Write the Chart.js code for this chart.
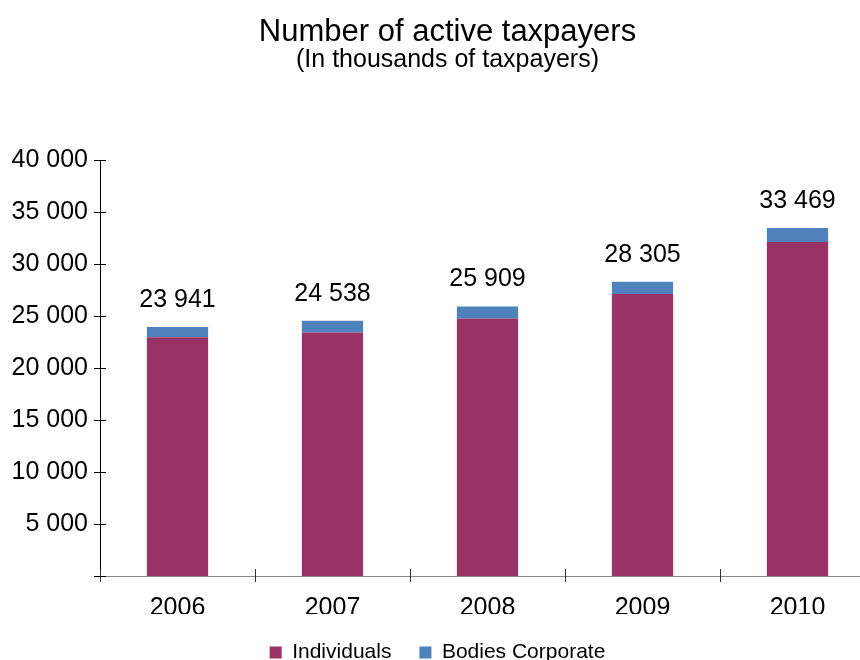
<!DOCTYPE html>
<html>
<head>
<meta charset="utf-8">
<script src="https://cdn.jsdelivr.net/npm/chart.js@4/dist/chart.umd.min.js"></script>
<style>
  html, body { margin: 0; padding: 0; background: #fff; overflow: hidden; }
  #wrap { width: 895px; height: 660px; }
</style>
</head>
<body>
<div id="wrap"><canvas id="taxChart" width="895" height="660"></canvas></div>
<script>
const years = ["2006", "2007", "2008", "2009", "2010"];
const individuals = [22950, 23420, 24750, 27110, 32110];
const bodiesCorporate = [991, 1118, 1159, 1195, 1359];
const yTicks = [0, 5000, 10000, 15000, 20000, 25000, 30000, 35000, 40000];

const fontName = "'Liberation Sans', Arial, sans-serif";

function fmt(v) {
    return String(v).replace(/\B(?=(\d{3})+(?!\d))/g, " ");
}

// tick marks that cross the axes, plus totals above the bars
const extrasPlugin = {
    id: 'extras',
    afterLayout(chart) {
        // nudge title + subtitle to the page centre
        chart.boxes.forEach(b => {
            if (b.position === 'top' && !b.axis) {
                b.left += 10;
                b.right += 10;
            }
        });
    },
    afterDraw(chart) {
        const c = chart.ctx;
        const x = chart.scales.x, y = chart.scales.y;
        c.save();
        c.lineWidth = 1;
        c.strokeStyle = '#000';
        yTicks.forEach(v => {
            let py = Math.round(y.getPixelForValue(v)) + 0.5;
            c.beginPath();
            c.moveTo(x.left - 6, py);
            c.lineTo(x.left + 6, py);
            c.stroke();
        });
        c.strokeStyle = '#333';
        for (let i = 0; i <= years.length; i++) {
            let px = Math.round(x.left + (x.right - x.left) * i / years.length) + 0.5;
            c.beginPath();
            c.moveTo(px, y.bottom - 7);
            c.lineTo(px, y.bottom + 6);
            c.stroke();
        }
        const meta = chart.getDatasetMeta(1);
        c.fillStyle = '#000';
        c.font = '25px ' + fontName;
        c.textAlign = 'center';
        c.textBaseline = 'middle';
        meta.data.forEach((bar, i) => {
            let total = individuals[i] + bodiesCorporate[i];
            c.fillText(fmt(total), bar.x, bar.y - 27);
        });
        c.restore();
    }
};

let ctx = document.getElementById('taxChart').getContext('2d');
let taxChart = new Chart(ctx, {
    type: 'bar',
    data: {
        labels: years,
        datasets: [{
            label: 'Individuals',
            data: individuals,
            backgroundColor: '#993366',
            borderWidth: 0
        }, {
            label: 'Bodies Corporate',
            data: bodiesCorporate,
            backgroundColor: '#4f81bd',
            borderWidth: 0
        }]
    },
    options: {
        responsive: false,
        animation: false,
        layout: { padding: { left: 0, right: 20, top: 0, bottom: -13 } },
        datasets: { bar: { categoryPercentage: 1, barPercentage: 0.395 } },
        plugins: {
            title: {
                display: true,
                text: 'Number of active taxpayers',
                color: '#000',
                font: { family: fontName, size: 31, weight: 'normal', lineHeight: 1 },
                padding: { top: 17, bottom: 0 }
            },
            subtitle: {
                display: true,
                text: '(In thousands of taxpayers)',
                color: '#000',
                font: { family: fontName, size: 25, weight: 'normal', lineHeight: 1 },
                padding: { top: 0, bottom: 87 }
            },
            legend: {
                position: 'bottom',
                labels: {
                    color: '#000',
                    font: { family: fontName, size: 21 },
                    boxWidth: 12,
                    boxHeight: 12,
                    padding: 28
                }
            },
            tooltip: { enabled: false }
        },
        scales: {
            x: {
                stacked: true,
                afterFit(scale) { scale.height = 38; },
                grid: { display: false, drawTicks: false },
                border: { color: '#888', width: 1 },
                ticks: {
                    color: '#000',
                    font: { family: fontName, size: 25 },
                    padding: 17
                }
            },
            y: {
                stacked: true,
                min: 0,
                max: 40000,
                afterFit(scale) { scale.width = 100; },
                afterBuildTicks(scale) { scale.ticks = yTicks.map(v => ({ value: v })); },
                grid: { display: false, drawTicks: false },
                border: { color: '#000', width: 1 },
                ticks: {
                    color: '#000',
                    font: { family: fontName, size: 25 },
                    padding: 12,
                    callback: v => v === 0 ? '' : fmt(v)
                }
            }
        }
    },
    plugins: [extrasPlugin]
});
</script>
</body>
</html>
